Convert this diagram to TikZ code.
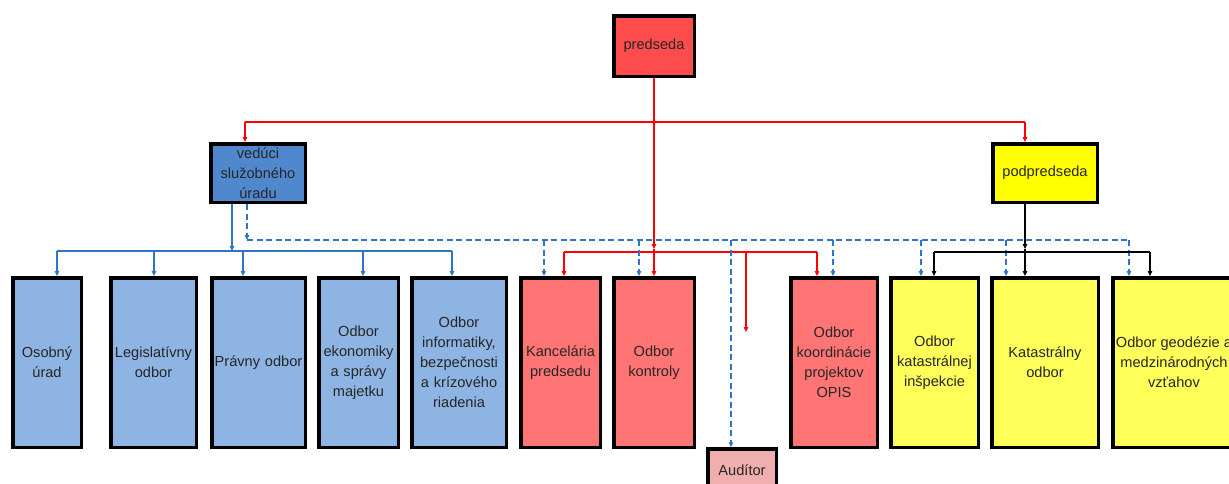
\documentclass[tikz,border=0pt]{standalone}
\usepackage{fontspec}
\setmainfont{Liberation Sans}
\usetikzlibrary{arrows.meta}
\definecolor{cPred}{HTML}{FF4D4D}
\definecolor{cVed}{HTML}{5088CE}
\definecolor{cPod}{HTML}{FFFF00}
\definecolor{cBlue}{HTML}{8DB4E2}
\definecolor{cRed}{HTML}{FF7575}
\definecolor{cYel}{HTML}{FFFF59}
\definecolor{cAud}{HTML}{F0AEAE}
\definecolor{cLineBlue}{HTML}{2E75C6}
\definecolor{cLineRed}{HTML}{FF0000}
\begin{document}
\begin{tikzpicture}[x=1pt,y=-1pt,
  box/.style={draw=black,line width=3.5pt,inner sep=0pt,align=center,
    font=\fontsize{14.6}{20}\selectfont,text=black!85},
  bw/.style={minimum width=#1-3.5pt,text width=#1-6pt},
  bh/.style={minimum height=#1-3.5pt},
  tip/.style={-{Triangle[length=5pt,width=4.5pt]}},
  rl/.style={draw=cLineRed,line width=1.2pt},
  bl/.style={draw=cLineBlue,line width=1.2pt},
  kl/.style={draw=black,line width=1.2pt},
  dl/.style={draw=cLineBlue,line width=1.2pt,dash pattern=on 6pt off 3.5pt}]
\useasboundingbox (0,0) rectangle (1229,483);
% top level
\node[box,fill=cPred,bw=84,bh=64] (predseda) at (654,46) {predseda};
\node[box,fill=cVed,bw=98,bh=62] (veduci) at (258,173) {vedúci služobného úradu};
\node[box,fill=cPod,bw=108,bh=62] (podpred) at (1045,173) {podpredseda};
% bottom row
\node[box,fill=cBlue,bw=72,bh=173] (osob) at (47,362.5) {Osobný úrad};
\node[box,fill=cBlue,bw=89,bh=173] (legis) at (153.5,362.5) {Legislatívny odbor};
\node[box,fill=cBlue,bw=97,bh=173] (pravny) at (258.5,362.5) {Právny odbor};
\node[box,fill=cBlue,bw=83,bh=173] (ekon) at (358.5,362.5) {Odbor ekonomiky a správy majetku};
\node[box,fill=cBlue,bw=98,bh=173] (inform) at (459,362.5) {Odbor informatiky, bezpečnosti a krízového riadenia};
\node[box,fill=cRed,bw=83,bh=173] (kancel) at (560.5,362.5) {Kancelária predsedu};
\node[box,fill=cRed,bw=84,bh=173] (kontr) at (654,362.5) {Odbor kontroly};
\node[box,fill=cRed,bw=90,bh=173] (koord) at (834,362.5) {Odbor koordinácie projektov OPIS};
\node[box,fill=cYel,bw=91,bh=173] (katinsp) at (934.5,362.5) {Odbor katastrálnej inšpekcie};
\node[box,fill=cYel,bw=110,bh=173] (katodb) at (1045,362.5) {Katastrálny odbor};
\node[box,fill=cYel,minimum width=122.5pt,bh=173] (geod) at (1174,362.5) {Odbor geodézie a\\medzinárodných\\vzťahov};
\node[box,fill=cAud,bw=72,minimum height=42pt] (aud) at (742,470) {Audítor};
% junction coordinates
\coordinate (rtop) at (654,122);
\coordinate (jr) at (654,249);
\coordinate (jb) at (232,251);
\coordinate (jd) at (247,240);
\coordinate (jk) at (1025,249);
\coordinate (hang) at (746,332);
% red connectors
\draw[rl] (245,122) -- (1025,122);
\draw[rl,tip] (245,122) -- (veduci.north -| 245,0);
\draw[rl,tip] (1025,122) -- (podpred.north -| 1025,0);
\draw[rl,tip] (predseda.south) -- (jr);
\draw[rl] (564,252) -- (817,252);
\draw[rl,tip] (564,252) -- (kancel.north -| 564,0);
\draw[rl,tip] (jr) -- (kontr.north);
\draw[rl,tip] (817,252) -- (koord.north -| 817,0);
\draw[rl,tip] (746,252) -- (hang);
% blue solid connectors
\draw[bl,tip] (veduci.south -| jb) -- (jb);
\draw[bl] (57,251) -- (452,251);
\draw[bl,tip] (57,251) -- (osob.north -| 57,0);
\draw[bl,tip] (154,251) -- (legis.north -| 154,0);
\draw[bl,tip] (243,251) -- (pravny.north -| 243,0);
\draw[bl,tip] (363,251) -- (ekon.north -| 363,0);
\draw[bl,tip] (452,251) -- (inform.north -| 452,0);
% blue dashed connectors
\draw[dl,tip] (veduci.south -| jd) -- (jd);
\draw[dl] (jd) -- (1129,240);
\draw[dl,tip] (544,240) -- (kancel.north -| 544,0);
\draw[dl,tip] (639,240) -- (kontr.north -| 639,0);
\draw[dl,tip] (731,240) -- (aud.north -| 731,0);
\draw[dl,tip] (833,240) -- (koord.north -| 833,0);
\draw[dl,tip] (921,240) -- (katinsp.north -| 921,0);
\draw[dl,tip] (1006,240) -- (katodb.north -| 1006,0);
\draw[dl,tip] (1129,240) -- (geod.north -| 1129,0);
% black connectors
\draw[kl,tip] (podpred.south -| jk) -- (jk);
\draw[kl] (934,252) -- (1150,252);
\draw[kl,tip] (934,252) -- (katinsp.north -| 934,0);
\draw[kl,tip] (jk) -- (katodb.north -| 1025,0);
\draw[kl,tip] (1150,252) -- (geod.north -| 1150,0);
\end{tikzpicture}
\end{document}
